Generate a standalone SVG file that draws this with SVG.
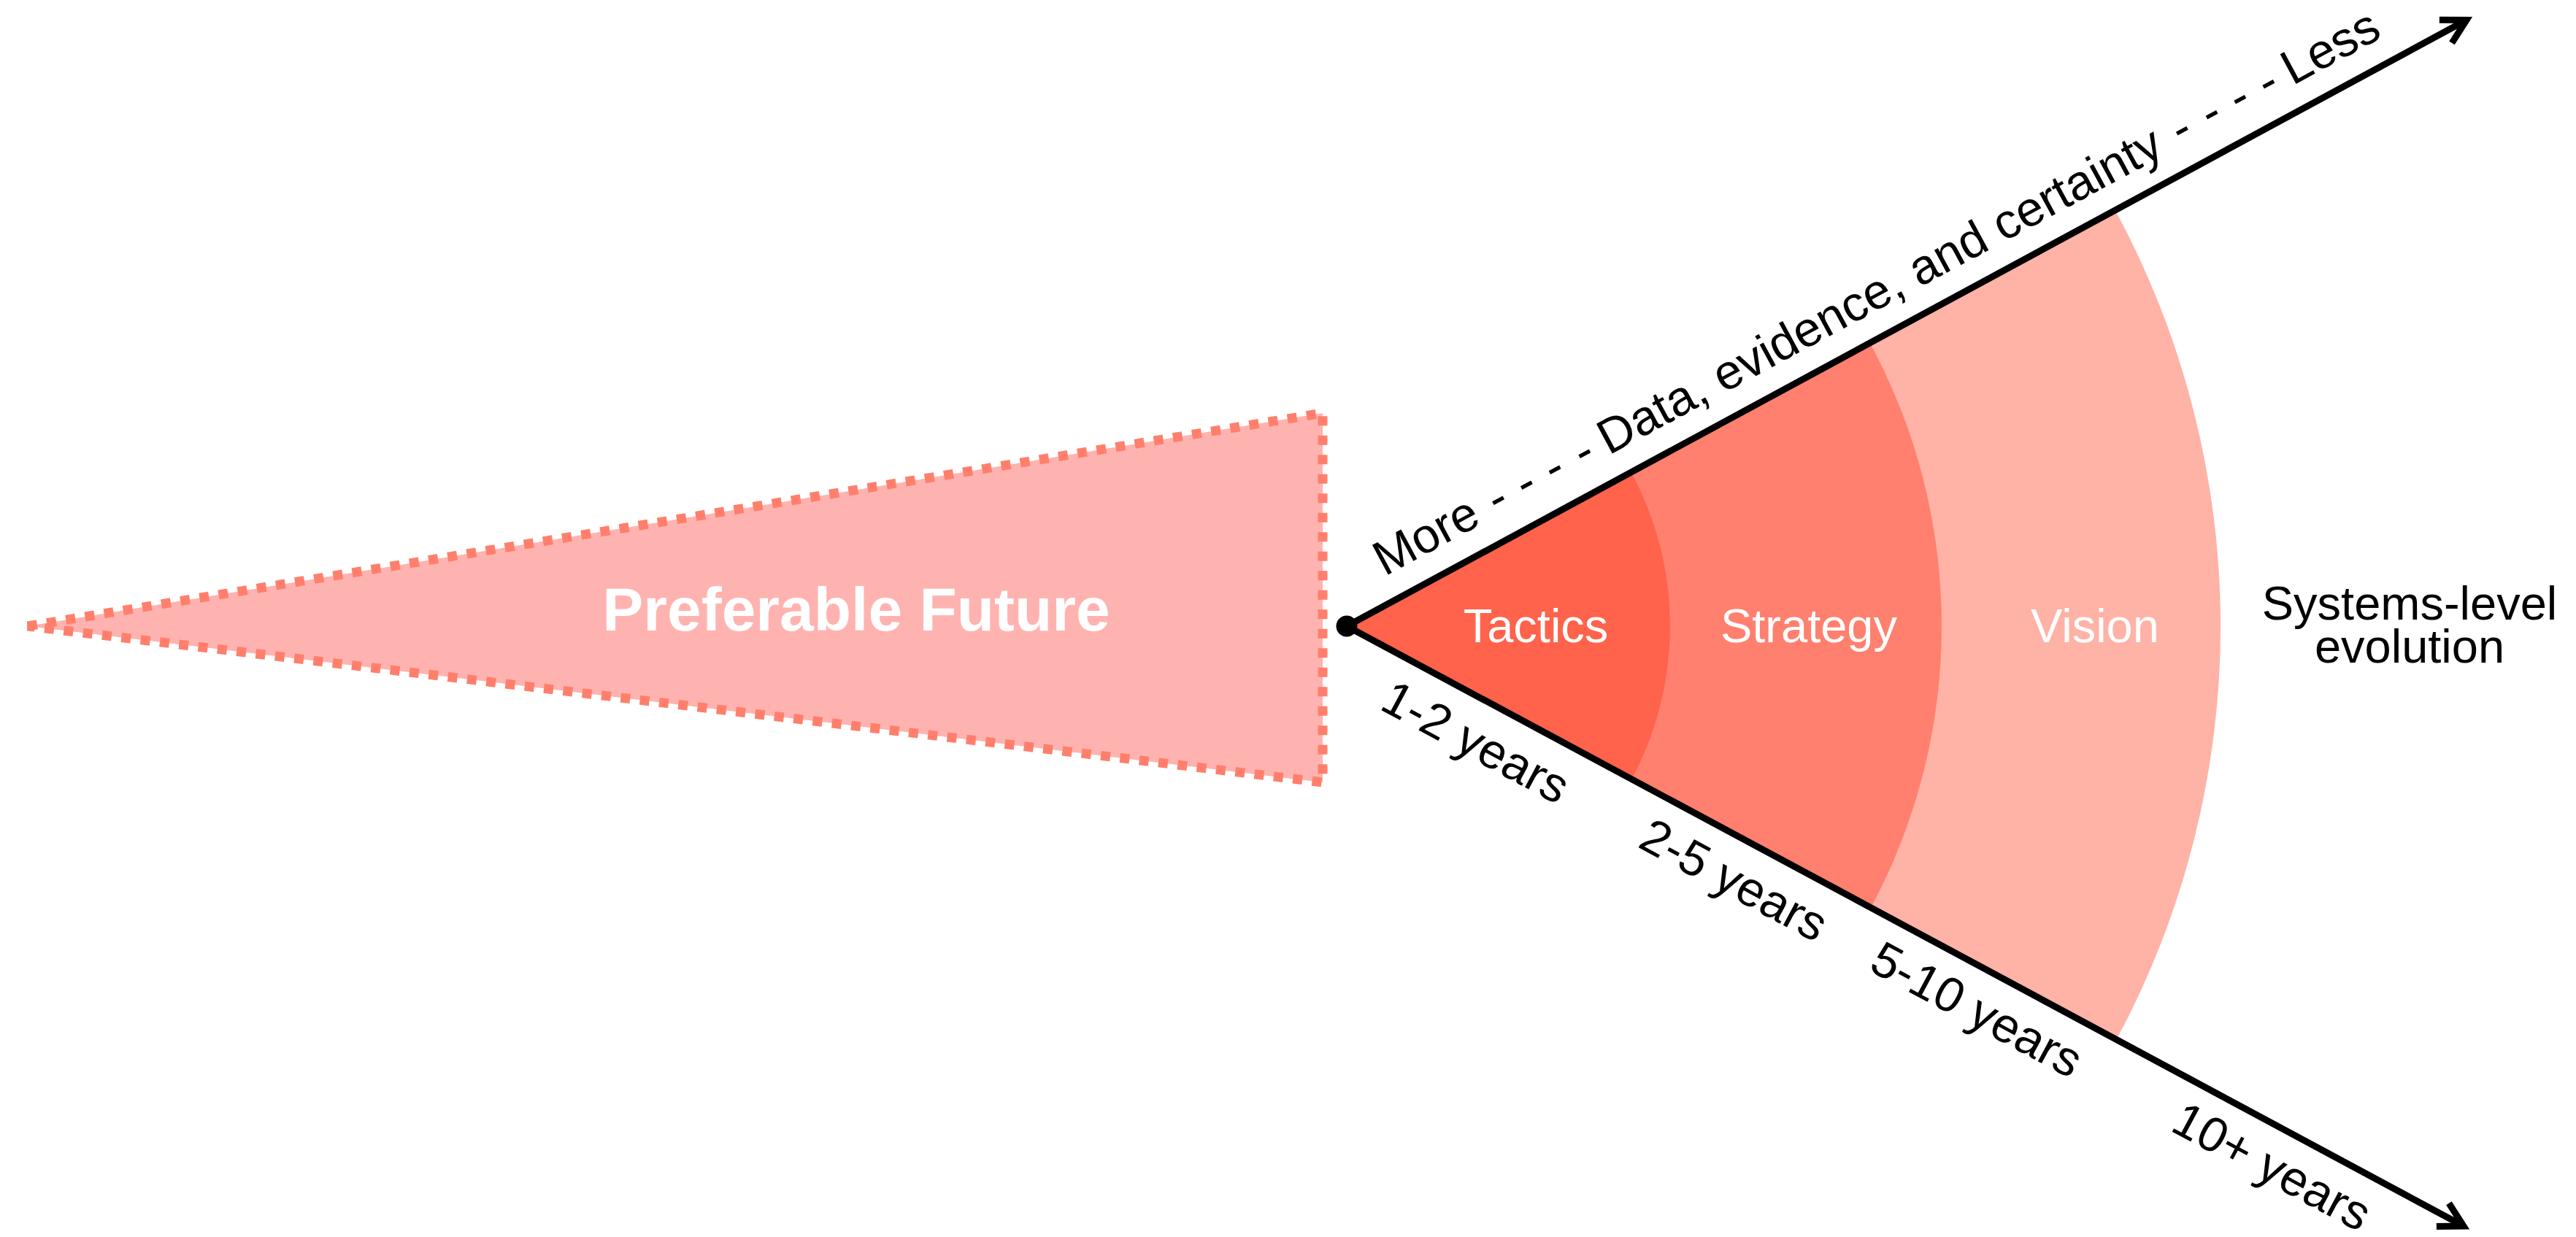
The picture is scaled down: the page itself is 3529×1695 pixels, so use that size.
<svg xmlns="http://www.w3.org/2000/svg" width="3529" height="1695" viewBox="0 0 3529 1695">
  <style>
    .lbl { font-family: "Liberation Sans", Arial, Helvetica, sans-serif; fill: #000; }
    .wlbl { font-family: "Liberation Sans", Arial, Helvetica, sans-serif; fill: #fff; }
    .axis { fill: none; stroke: #000; stroke-width: 9; stroke-linecap: butt; }
  </style>
  <defs>
    <marker id="arrow" markerUnits="userSpaceOnUse" viewBox="-50 -30 60 60" refX="0" refY="0" markerWidth="60" markerHeight="60" orient="auto" overflow="visible">
      <path d="M -32.5,-18 L 0,0 L -32.5,18" fill="none" stroke="#000" stroke-width="9" stroke-linejoin="miter" stroke-miterlimit="10"/>
    </marker>
  </defs>
  <rect width="3529" height="1695" fill="#fff"/>

  <g id="preferable-future">
    <polygon points="38,858 1812,566 1812,1072" fill="#FFB3B0" stroke="#FF7F6C" stroke-width="13" stroke-dasharray="13 13.5"/>
    <text class="wlbl" x="1173" y="864" font-size="84" font-weight="bold" text-anchor="middle">Preferable Future</text>
  </g>

  <g id="vision">
    <path d="M1845,858 L2897.7,288.1 A1197,1197 0 0 1 2899.4,1424.6 Z" fill="#FFB2A6"/>
    <text class="wlbl" x="2870" y="880" font-size="65" text-anchor="middle">Vision</text>
  </g>
  <g id="strategy">
    <path d="M1845,858 L2561.7,470 A815,815 0 0 1 2562.9,1243.8 Z" fill="#FF806E"/>
    <text class="wlbl" x="2478" y="880" font-size="65" text-anchor="middle">Strategy</text>
  </g>
  <g id="tactics">
    <path d="M1845,858 L2234.6,647.1 A443,443 0 0 1 2235.2,1067.7 Z" fill="#FF634B"/>
    <text class="wlbl" x="2104" y="880" font-size="65" text-anchor="middle">Tactics</text>
  </g>

  <g id="connectors">
    <path class="axis" d="M1845,858 L3379,27.5" marker-end="url(#arrow)"/>
    <path class="axis" d="M1845,858 L3375,1680" marker-end="url(#arrow)"/>
  </g>

  <g id="origin">
    <circle cx="1845" cy="858" r="14.5" fill="#000"/>
  </g>

  <g id="certainty-label" transform="translate(1845,858) rotate(-28.4)">
    <text class="lbl" y="-35" font-size="67"><tspan x="78">More</tspan> <tspan x="253.4">-</tspan> <tspan x="297.5">-</tspan> <tspan x="341.5">-</tspan> <tspan x="387.8">-</tspan> <tspan x="427">Data, evidence, and certainty</tspan> <tspan x="1318.4">-</tspan> <tspan x="1364.7">-</tspan> <tspan x="1408.8">-</tspan> <tspan x="1452.9">-</tspan> <tspan x="1492">Less</tspan></text>
  </g>

  <g id="time-labels" transform="translate(1845,858) rotate(28.25)">
    <text class="lbl" x="231" y="79" font-size="67" text-anchor="middle">1-2 years</text>
    <text class="lbl" x="632" y="78" font-size="67" text-anchor="middle">2-5 years</text>
    <text class="lbl" x="1009" y="77" font-size="67" text-anchor="middle">5-10 years</text>
    <text class="lbl" x="1467" y="75" font-size="67" text-anchor="middle">10+ years</text>
  </g>

  <g id="systems-level">
    <text class="lbl" font-size="65" text-anchor="middle"><tspan x="3301" y="849">Systems-level</tspan><tspan x="3301" y="908">evolution</tspan></text>
  </g>
</svg>
